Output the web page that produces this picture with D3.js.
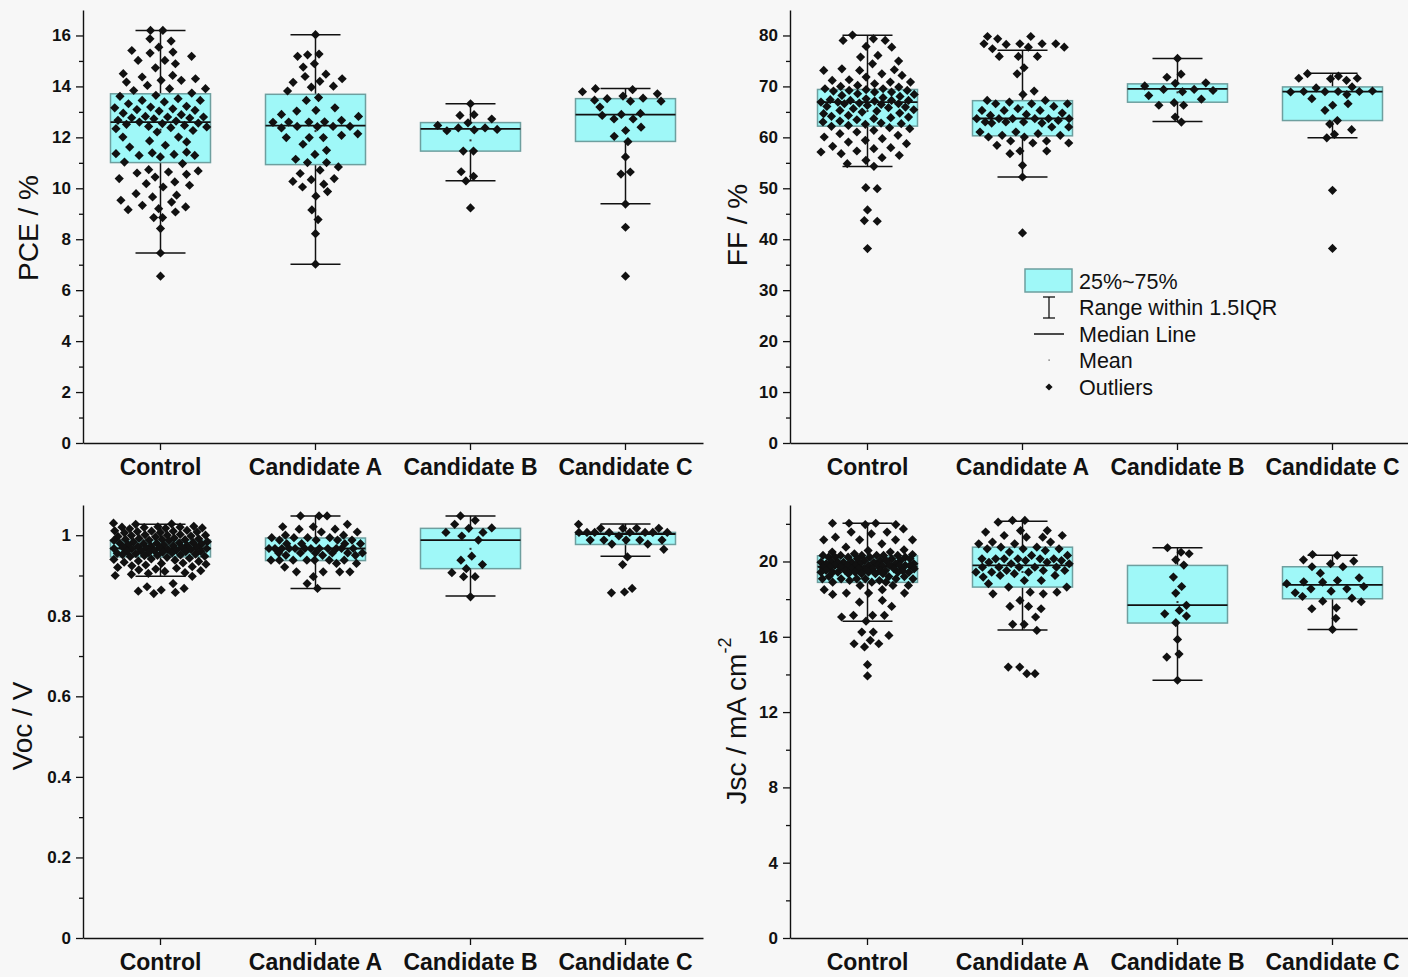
<!DOCTYPE html>
<html>
<head>
<meta charset="utf-8">
<script src="https://cdn.jsdelivr.net/npm/d3@7"></script>
<style>
  html, body { margin: 0; padding: 0; background: #f7f7f7; }
  svg { display: block; font-family: Arial, "Liberation Sans", sans-serif; }
</style>
</head>
<body>
<svg id="chart" width="1408" height="977"></svg>
<script>
// ---- Device groups ----
const categories = ["Control", "Candidate A", "Candidate B", "Candidate C"];

// ---- PCE (%) ----
const pceControl = [16.20,16.20,15.87,15.78,15.54,15.41,15.35,15.31,15.18,15.02,15.02,14.89,14.73,14.50,14.43,14.37,14.30,14.24,14.24,14.17,14.04,13.91,13.91,13.84,13.74,13.65,13.61,13.52,13.45,13.45,13.39,13.32,13.22,13.19,13.16,13.12,13.09,13.06,13.03,12.95,12.89,12.82,12.80,12.80,12.77,12.76,12.73,12.67,12.64,12.60,12.56,12.54,12.51,12.47,12.43,12.41,12.38,12.34,12.27,12.21,12.01,12.01,11.86,11.82,11.69,11.62,11.42,11.39,11.36,11.33,11.29,11.29,11.23,11.03,10.97,10.73,10.68,10.64,10.60,10.55,10.44,10.38,10.25,10.18,10.12,10.05,9.79,9.73,9.66,9.53,9.46,9.33,9.27,9.20,9.16,9.07,8.85,8.85,8.42,7.46,6.55];
const pceA = [16.03,15.27,15.24,15.18,14.89,14.76,14.48,14.39,14.30,14.20,14.16,14.01,13.97,13.82,13.56,13.45,13.16,13.06,13.03,12.90,12.82,12.67,12.61,12.60,12.60,12.59,12.43,12.43,12.43,12.42,12.37,12.14,12.08,11.99,11.99,11.99,11.73,11.49,11.33,11.14,11.01,11.01,10.84,10.71,10.58,10.38,10.34,10.27,10.16,10.05,9.87,9.69,9.15,8.77,8.22,7.02];
const pceB = [13.32,12.89,12.86,12.72,12.57,12.47,12.37,12.37,12.31,12.29,12.26,11.46,11.46,10.65,10.47,10.29,9.23];
const pceC = [13.91,13.87,13.79,13.71,13.62,13.54,13.52,13.46,13.42,13.42,13.19,12.94,12.90,12.86,12.72,12.72,12.40,12.27,12.04,11.83,11.23,10.64,10.56,9.38,8.47,6.55];
// [lower whisker, Q1, median, Q3, upper whisker]
const pceBox = [[7.46,11.01,12.60,13.71,16.20],[7.02,10.93,12.46,13.69,16.03],[10.30,11.46,12.33,12.58,13.32],[9.39,11.84,12.89,13.52,13.92]];
const pceTicks = [0,2,4,6,8,10,12,14,16];

// ---- FF (%) ----
const ffControl = [80.07,79.35,79.02,79.02,77.84,77.71,76.08,75.75,74.97,74.44,73.46,73.27,73.14,73.14,72.48,72.16,71.83,71.31,71.18,70.85,70.85,70.52,70.20,70.00,69.87,69.54,69.54,69.35,69.22,69.22,69.08,68.89,68.89,68.56,68.43,68.24,68.04,67.78,67.58,67.39,67.25,67.25,67.25,67.12,66.93,66.93,66.73,66.60,66.60,66.47,66.27,66.08,65.95,65.82,65.62,65.42,65.29,65.16,64.97,64.77,64.64,64.31,64.12,63.99,63.86,63.66,63.46,63.20,63.01,62.81,62.68,62.55,62.35,62.16,61.90,61.70,61.37,61.05,60.72,60.39,60.07,59.74,59.41,59.08,58.76,58.24,57.97,57.78,57.32,57.12,56.80,56.47,56.01,55.49,54.84,54.31,50.13,49.93,45.75,43.66,43.53,38.17];
const ffA = [79.80,79.80,79.35,78.37,78.37,78.37,78.37,78.24,77.71,77.71,77.39,75.88,75.88,75.88,73.66,72.48,69.08,68.43,67.25,67.25,66.93,66.60,66.60,66.60,66.08,65.62,65.29,65.29,65.29,64.77,64.51,64.31,63.66,63.66,63.66,63.66,63.66,63.66,63.33,63.01,63.01,63.01,62.81,62.81,62.03,62.03,61.05,61.05,60.72,60.39,60.39,60.07,60.07,59.28,59.28,58.89,58.89,58.43,57.32,57.32,56.80,54.51,52.22,41.24];
const ffB = [75.5,72.4,71.8,70.7,70.6,70.1,69.4,69.4,69.2,68.96,68.2,67.5,66.8,66.3,66.3,64.0,63.0];
const ffC = [72.5,72.0,71.6,71.6,71.5,71.2,69.9,69.7,69.1,69.0,69.0,69.0,68.96,68.9,68.4,67.6,66.6,66.3,65.3,63.3,62.6,61.5,60.6,59.9,49.6,38.2];
const ffBox = [[54.3,62.2,66.9,69.4,80.06],[52.2,60.3,63.7,67.2,77.1],[63.1,66.9,69.5,70.5,75.5],[59.9,63.3,68.96,69.9,72.6]];
const ffTicks = [0,10,20,30,40,50,60,70,80];

// ---- Voc (V) ----
const vocControl = [1.030,1.028,1.027,1.022,1.021,1.020,1.020,1.019,1.018,1.017,1.016,1.012,1.011,1.010,1.010,1.009,1.008,1.007,1.006,1.002,1.001,1.000,1.000,0.999,0.998,0.997,0.996,0.993,0.992,0.991,0.990,0.990,0.989,0.988,0.987,0.986,0.984,0.983,0.982,0.981,0.980,0.980,0.979,0.978,0.977,0.976,0.975,0.974,0.973,0.972,0.971,0.970,0.970,0.969,0.968,0.967,0.967,0.966,0.965,0.964,0.963,0.962,0.961,0.960,0.960,0.959,0.958,0.957,0.956,0.955,0.954,0.953,0.952,0.951,0.950,0.949,0.948,0.947,0.945,0.943,0.941,0.940,0.938,0.936,0.935,0.933,0.931,0.930,0.928,0.926,0.924,0.922,0.920,0.918,0.916,0.914,0.912,0.910,0.907,0.905,0.903,0.900,0.898,0.880,0.872,0.868,0.864,0.861,0.858,0.855];
const vocA = [1.048,1.048,1.048,1.027,1.021,1.021,1.015,1.015,1.008,1.008,1.000,1.000,0.994,0.994,0.994,0.994,0.988,0.988,0.988,0.988,0.979,0.979,0.979,0.979,0.967,0.967,0.967,0.967,0.967,0.967,0.967,0.967,0.967,0.967,0.967,0.967,0.956,0.956,0.956,0.956,0.956,0.956,0.950,0.950,0.950,0.938,0.938,0.938,0.938,0.938,0.938,0.938,0.930,0.930,0.921,0.909,0.909,0.909,0.909,0.897,0.880,0.868];
const vocB = [1.048,1.037,1.027,1.018,1.017,1.007,1.007,0.998,0.988,0.948,0.938,0.927,0.917,0.907,0.897,0.897,0.847];
const vocC = [1.027,1.017,1.017,1.017,1.017,1.007,1.007,1.007,1.007,1.007,1.007,1.007,1.007,0.998,0.988,0.988,0.988,0.988,0.988,0.978,0.978,0.965,0.946,0.927,0.868,0.859,0.857];
const vocBox = [[0.898,0.946,0.967,0.988,1.027],[0.868,0.937,0.967,0.993,1.048],[0.849,0.917,0.988,1.017,1.048],[0.948,0.977,1.003,1.007,1.028]];
const vocTicks = [0,0.2,0.4,0.6,0.8,1];

// ---- Jsc (mA cm-2) ----
const jscControl = [22.03,22.03,22.03,21.96,21.96,21.73,21.56,21.56,21.47,21.29,21.15,21.15,21.15,21.15,20.94,20.76,20.62,20.58,20.50,20.50,20.41,20.37,20.32,20.32,20.32,20.32,20.32,20.32,20.23,20.23,20.23,20.23,20.23,20.14,20.14,20.14,20.05,20.05,20.05,20.05,19.96,19.96,19.96,19.96,19.96,19.96,19.88,19.88,19.88,19.88,19.79,19.79,19.79,19.79,19.79,19.79,19.79,19.79,19.79,19.79,19.70,19.70,19.70,19.61,19.61,19.61,19.61,19.61,19.61,19.52,19.52,19.52,19.52,19.52,19.43,19.43,19.43,19.43,19.43,19.43,19.43,19.35,19.35,19.35,19.35,19.20,19.20,19.20,19.08,19.08,19.08,19.08,19.08,19.08,18.99,18.99,18.90,18.90,18.90,18.73,18.73,18.73,18.50,18.50,18.32,18.32,18.32,18.25,17.93,17.84,17.61,17.14,17.14,17.14,17.05,16.83,16.25,16.25,16.07,15.81,15.63,15.63,15.46,14.52,13.92];
const jscA = [22.18,22.18,22.09,21.64,21.64,21.56,21.38,21.38,21.29,21.29,21.03,21.03,20.94,20.94,20.76,20.76,20.67,20.67,20.67,20.58,20.50,20.32,20.32,20.14,20.14,20.14,20.14,20.14,20.14,20.05,20.05,19.96,19.96,19.88,19.88,19.70,19.70,19.70,19.70,19.70,19.52,19.52,19.52,19.43,19.43,19.43,19.35,19.26,19.26,19.17,18.99,18.99,18.82,18.64,18.64,18.37,18.37,18.28,18.28,17.93,17.61,17.61,17.49,17.05,16.66,16.66,16.34,14.39,14.39,14.04,14.04];
const jscB = [20.73,20.49,20.41,20.09,19.81,19.17,18.67,18.32,17.67,17.40,17.22,17.10,16.75,15.86,15.08,14.92,13.69];
const jscC = [20.37,20.32,20.09,20.02,19.88,19.72,19.72,19.38,19.13,18.99,18.92,18.90,18.82,18.67,18.55,18.55,18.42,18.34,18.14,18.05,17.89,17.86,17.54,17.49,16.98,16.39];
const jscBox = [[16.83,18.89,19.73,20.30,22.03],[16.36,18.64,19.79,20.76,22.14],[13.69,16.73,17.68,19.79,20.73],[16.39,18.02,18.76,19.72,20.33]];
const jscTicks = [0,4,8,12,16,20];

// ---- Styling ----
const BOX_FILL = "#9ff8f8";
const BOX_STROKE = "#6e9f9f";
const INK = "#111";
const FONT = "Arial, 'Liberation Sans', sans-serif";

const svg = d3.select("#chart");
svg.append("rect").attr("width", 1408).attr("height", 977).attr("fill", "#f7f7f7");

const panels = [
  { groups: [pceControl, pceA, pceB, pceC], box: pceBox, ticks: pceTicks, max: 17,
    x0: 83, x1: 703, top: 10, bottom: 443, title: ["PCE / %"], titleX: 28, titleY: 228 },
  { groups: [ffControl, ffA, ffB, ffC], box: ffBox, ticks: ffTicks, max: 85,
    x0: 790, x1: 1410, top: 10, bottom: 443, title: ["FF / %"], titleX: 737, titleY: 225, legend: true },
  { groups: [vocControl, vocA, vocB, vocC], box: vocBox, ticks: vocTicks, max: 1.075,
    x0: 83, x1: 703, top: 505, bottom: 938, title: ["Voc / V"], titleX: 22, titleY: 726 },
  { groups: [jscControl, jscA, jscB, jscC], box: jscBox, ticks: jscTicks, max: 23,
    x0: 790, x1: 1410, top: 505, bottom: 938, title: ["Jsc / mA cm", "-2"], titleX: 736, titleY: 721 }
];

// Diamond marker
const diamond = r => `M0,${-r}L${r},0L0,${r}L${-r},0Z`;

// Horizontal spread of points: the allowed width grows with the local
// density, and each point takes the first golden-ratio slot that does
// not collide with points already placed.
function spread(ys, D, maxOff) {
  const placed = [];
  const PHI = 0.6180339887;
  return ys.map((py, j) => {
    const n = ys.filter(q => Math.abs(q - py) < 10).length;
    const w0 = Math.min(maxOff, (n - 1) * 5);
    let best = 0, bestD = -1;
    const near = placed.filter(p => Math.abs(p.y - py) < D);
    for (let k = 0; k < 50; k++) {
      const w = Math.min(maxOff, w0 + k * 1.2);
      const s = ((((j + 11 * k) * PHI) % 1) - 0.5) * 2 * w;
      const dmin = near.length ? d3.min(near, p => Math.hypot(p.x - s, p.y - py)) : Infinity;
      if (dmin >= D) { best = s; break; }
      if (dmin > bestD) { bestD = dmin; best = s; }
    }
    placed.push({ x: best, y: py });
    return best;
  });
}

panels.forEach(P => {
  const g = svg.append("g");
  const x = d3.scaleBand().domain(categories).range([P.x0, P.x1]).padding(0);
  const y = d3.scaleLinear().domain([0, P.max]).range([P.bottom, P.top]);
  const step = P.ticks[1] - P.ticks[0];
  const minor = P.ticks.map(t => t + step / 2).filter(t => t < P.max);
  const boxW = 100, capW = 50;

  // minor ticks
  g.append("g").attr("transform", `translate(${P.x0},0)`)
    .call(d3.axisLeft(y).tickValues(minor).tickSize(4).tickSizeOuter(0).tickFormat(""))
    .call(a => a.select(".domain").remove())
    .call(a => a.selectAll("line").attr("stroke", INK).attr("stroke-width", 1.3));

  // y axis
  g.append("g").attr("transform", `translate(${P.x0},0)`)
    .call(d3.axisLeft(y).tickValues(P.ticks).tickSize(7).tickSizeOuter(0).tickPadding(5).tickFormat(d => String(d)))
    .call(a => a.select(".domain").attr("stroke", INK).attr("stroke-width", 1.4))
    .call(a => a.selectAll("line").attr("stroke", INK).attr("stroke-width", 1.3))
    .call(a => a.selectAll("text").attr("fill", INK).attr("font-size", 17).attr("font-weight", "bold")
      .attr("font-family", FONT));

  // x axis
  g.append("g").attr("transform", `translate(0,${P.bottom})`)
    .call(d3.axisBottom(x).tickSize(7).tickSizeOuter(0).tickPadding(9))
    .call(a => a.select(".domain").attr("stroke", INK).attr("stroke-width", 1.4))
    .call(a => a.selectAll("line").attr("stroke", INK).attr("stroke-width", 1.3))
    .call(a => a.selectAll("text").attr("fill", INK).attr("font-size", 23).attr("font-weight", "bold")
      .attr("font-family", FONT));

  // y axis title
  const t = g.append("text")
    .attr("transform", `translate(${P.titleX},${P.titleY}) rotate(-90)`)
    .attr("text-anchor", "middle").attr("dy", "0.35em")
    .attr("font-size", 28).attr("fill", INK);
  t.append("tspan").text(P.title[0]);
  if (P.title[1]) t.append("tspan").attr("font-size", 18).attr("dy", "-0.8em").text(P.title[1]);

  // boxes
  categories.forEach((c, i) => {
    const cx = x(c) + x.bandwidth() / 2;
    const [lo, q1, med, q3, hi] = P.box[i];
    const bg = g.append("g");
    bg.append("line").attr("x1", cx).attr("x2", cx).attr("y1", y(hi)).attr("y2", y(q3))
      .attr("stroke", INK).attr("stroke-width", 1.5);
    bg.append("line").attr("x1", cx).attr("x2", cx).attr("y1", y(q1)).attr("y2", y(lo))
      .attr("stroke", INK).attr("stroke-width", 1.5);
    [hi, lo].forEach(v => bg.append("line")
      .attr("x1", cx - capW / 2).attr("x2", cx + capW / 2).attr("y1", y(v)).attr("y2", y(v))
      .attr("stroke", INK).attr("stroke-width", 1.5));
    bg.append("rect").attr("x", cx - boxW / 2).attr("width", boxW)
      .attr("y", y(q3)).attr("height", y(q1) - y(q3))
      .attr("fill", BOX_FILL).attr("stroke", BOX_STROKE).attr("stroke-width", 1.5);
    bg.append("line").attr("x1", cx - boxW / 2).attr("x2", cx + boxW / 2)
      .attr("y1", y(med)).attr("y2", y(med)).attr("stroke", INK).attr("stroke-width", 1.8);
    const m = d3.mean(P.groups[i]);
    bg.append("rect").attr("x", cx - 1).attr("y", y(m) - 1).attr("width", 2).attr("height", 2)
      .attr("fill", "#333");

    // data points
    const ys = P.groups[i].map(v => y(v));
    const off = spread(ys, 8, 47);
    bg.selectAll("path.pt").data(P.groups[i]).join("path")
      .attr("class", "pt")
      .attr("d", diamond(4.6))
      .attr("transform", (v, j) => `translate(${cx + off[j]},${y(v)})`)
      .attr("fill", INK);
  });

  // legend
  if (P.legend) {
    const L = g.append("g").attr("font-size", 21.5).attr("fill", INK);
    const lx = 1079;
    const rows = ["25%~75%", "Range within 1.5IQR", "Median Line", "Mean", "Outliers"];
    const ry = [281, 307, 334, 360, 387];
    rows.forEach((r, k) => L.append("text").attr("x", lx).attr("y", ry[k]).attr("dy", "0.35em")
      .attr("fill", INK).text(r));
    L.append("rect").attr("x", 1025).attr("y", 269).attr("width", 47).attr("height", 23)
      .attr("fill", BOX_FILL).attr("stroke", BOX_STROKE).attr("stroke-width", 1.5);
    L.append("line").attr("x1", 1049).attr("x2", 1049).attr("y1", 297).attr("y2", 318).attr("stroke", INK).attr("stroke-width", 1.3);
    [297, 318].forEach(v => L.append("line").attr("x1", 1043).attr("x2", 1055).attr("y1", v).attr("y2", v).attr("stroke", INK).attr("stroke-width", 1.3));
    L.append("line").attr("x1", 1034).attr("x2", 1064).attr("y1", 334).attr("y2", 334).attr("stroke", INK).attr("stroke-width", 1.5);
    L.append("rect").attr("x", 1048.5).attr("y", 359.5).attr("width", 1.2).attr("height", 1.2).attr("fill", "#444");
    L.append("path").attr("d", diamond(3.6)).attr("transform", "translate(1049,387)").attr("fill", INK);
  }
});
</script>
</body>
</html>
